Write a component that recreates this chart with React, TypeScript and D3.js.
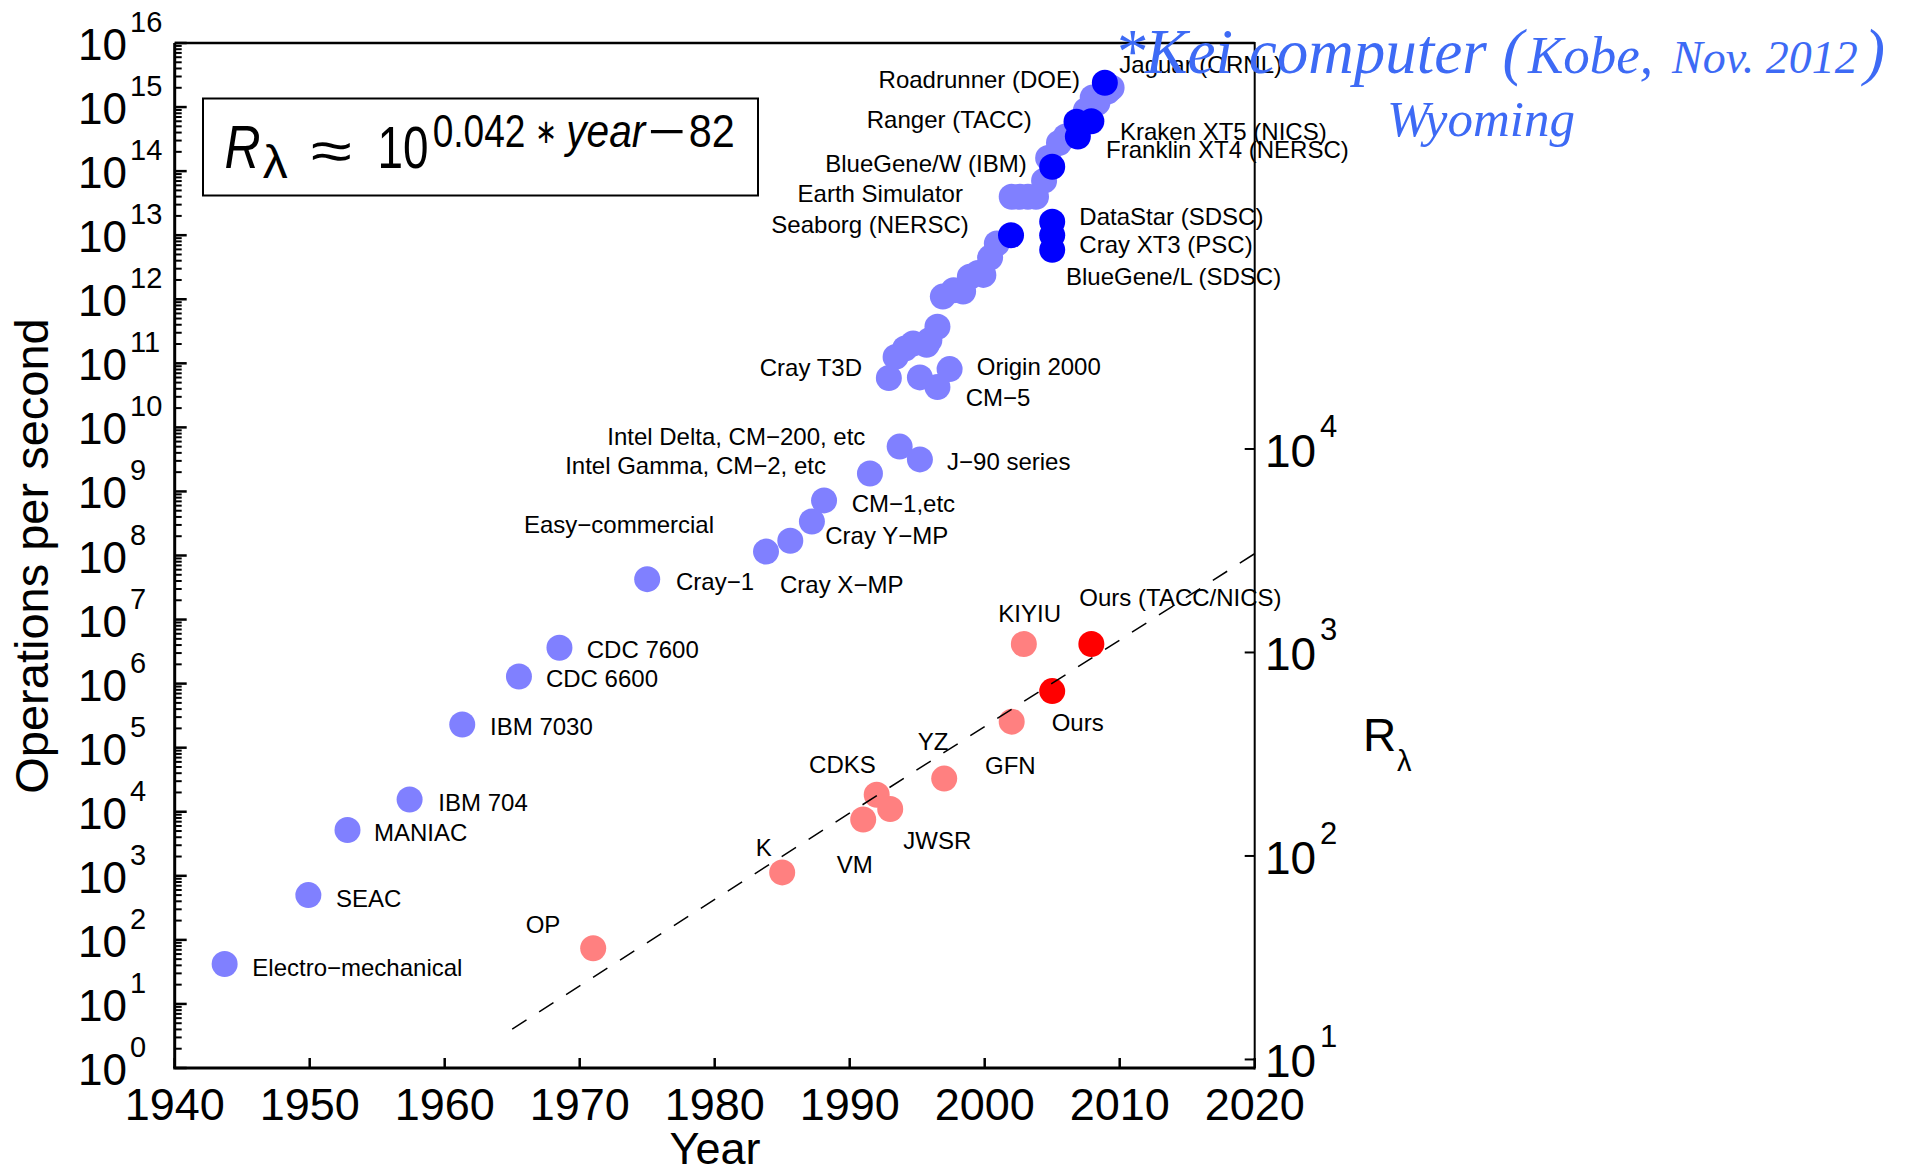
import React, { useEffect, useRef } from 'react';
import * as d3 from 'd3';

// ---- data ----
// general machines (left axis, operations per second)
const machineYears = [
    1943.7, 1949.9, 1952.8, 1957.4, 1961.3, 1965.5, 1968.5, 1975.0, 1983.8, 1985.6,
    1987.2, 1988.1, 1991.5, 1993.7, 1995.2, 1992.9, 1995.2, 1996.5, 1997.4, 1993.4,
    1994.1, 1994.7, 1995.7, 1995.9, 1996.5, 1996.9, 1997.7, 1998.4, 1998.9, 1999.9,
    1999.5, 2000.4, 2000.9, 2002.0, 2002.6, 2003.2, 2003.8, 2004.4, 2004.7, 2005.5,
    2006.0, 2007.5, 2008.0, 2008.35, 2009.1, 2009.4,
];
const machineOps = [
    42, 500, 5.2e3, 1.55e4, 2.3e5, 1.29e6, 3.63e6, 4.27e7, 1.15e8, 1.7e8,
    3.39e8, 7.24e8, 1.91e9, 5.01e9, 3.16e9, 5.89e10, 6.03e10, 4.27e10, 8.13e10, 1.26e11,
    1.7e11, 2.04e11, 1.95e11, 2.29e11, 3.72e11, 1.1e12, 1.38e12, 1.32e12, 2.24e12, 2.4e12,
    2.57e12, 4.47e12, 7.41e12, 3.98e13, 3.98e13, 3.98e13, 3.98e13, 7.1e13, 1.6e14, 2.75e14,
    3.47e14, 8.9e14, 1.41e15, 1.17e15, 1.74e15, 2.0e15,
];

// highlighted machines (dark blue)
const highlightYears = [2001.95, 2005.0, 2005.0, 2005.0, 2005.0, 2006.9, 2006.8, 2007.9, 2008.9];
const highlightOps = [1.0e13, 1.62e13, 1.0e13, 5.9e12, 1.17e14, 3.47e14, 5.9e14, 6.0e14, 2.4e15];

// simulations (right axis, R_lambda)
const simYears = [1971.0, 1985.0, 1991.0, 1992.0, 1993.0, 1997.0, 2002.0, 2002.9];
const simR = [35.2, 83, 151, 200, 170, 240, 457, 1100];

// our simulations (red)
const oursYears = [2005.0, 2007.9];
const oursR = [646, 1100];

// dashed fit line end points (right axis)
const fitYears = [1965, 2020];
const fitR = [14.1, 3060];

// annotations (placed in left-axis data coordinates)
const labelTexts = [
    'Electro−mechanical', 'SEAC', 'MANIAC', 'IBM 704', 'IBM 7030', 'CDC 6600', 'CDC 7600',
    'Cray−1', 'Cray X−MP', 'Cray Y−MP', 'CM−1,etc', 'Easy−commercial',
    'Intel Gamma, CM−2, etc', 'Intel Delta, CM−200, etc', 'J−90 series', 'Cray T3D',
    'Origin 2000', 'CM−5', 'BlueGene/L (SDSC)', 'Cray XT3 (PSC)', 'DataStar (SDSC)',
    'Seaborg (NERSC)', 'Earth Simulator', 'BlueGene/W (IBM)', 'Franklin XT4 (NERSC)',
    'Kraken XT5 (NICS)', 'Ranger (TACC)', 'Roadrunner (DOE)', 'Jaguar (ORNL)',
    'KIYIU', 'Ours (TACC/NICS)', 'Ours', 'GFN', 'YZ', 'CDKS', 'JWSR', 'VM', 'K', 'OP',
];
const labelYears = [
    1945.75, 1951.95, 1954.76, 1959.53, 1963.36, 1967.5, 1970.52,
    1977.13, 1984.84, 1988.19, 1990.15, 1979.95,
    1988.24, 1991.16, 1997.21, 1990.91,
    1999.41, 1998.59, 2006.02, 2007.01, 2007.01,
    1998.82, 1998.39, 2003.11, 2008.99,
    2010.02, 2003.48, 2007.06, 2009.97,
    2001.01, 2007.01, 2004.96, 2000.02, 1995.04, 1986.99, 1993.97, 1989.04, 1983.04, 1966.0,
];
const labelOps = [
    2.76e1, 3.3e2, 3.53e3, 1.04e4, 1.58e5, 8.77e5, 2.49e6,
    2.9e7, 2.57e7, 1.51e8, 4.83e8, 2.27e8,
    1.87e9, 5.31e9, 2.16e9, 6.3e10,
    6.58e10, 2.18e10, 1.67e12, 5.22e12, 1.45e13,
    1.07e13, 3.33e13, 9.82e13, 1.59e14,
    3.06e14, 4.67e14, 1.96e15, 3.37e15,
    9.08e6, 1.63e7, 1.84e5, 3.88e4, 9.2e4, 4.07e4, 2.59e3, 1.09e3, 2.04e3, 1.27e2,
];
const labelEndAnchored = [
    'Easy−commercial', 'Intel Gamma, CM−2, etc', 'Intel Delta, CM−200, etc', 'Cray T3D',
    'Seaborg (NERSC)', 'Earth Simulator', 'BlueGene/W (IBM)', 'Ranger (TACC)', 'Roadrunner (DOE)',
];

const yearTicks = [1940, 1950, 1960, 1970, 1980, 1990, 2000, 2010, 2020];
const leftExponents = d3.range(0, 17);
const rightExponents = [1, 2, 3, 4];

const W = 1912;
const H = 1173;
const plot = { left: 174.7, right: 1254.7, top: 43, bottom: 1068 };
const sans = "'Liberation Sans', Arial, Helvetica, sans-serif";
const serif = "'Liberation Serif', 'Times New Roman', serif";

const App: React.FC = () => {
    const svgRef = useRef<SVGSVGElement>(null);

    useEffect(() => {
        if (!svgRef.current) return;
        const svg = d3.select(svgRef.current);
        svg.selectAll('*').remove();

        const x = d3.scaleLinear().domain([1940, 2020]).range([plot.left, plot.right]);
        const y = d3.scaleLog().domain([1, 1e16]).range([plot.bottom, plot.top]);
        const yR = d3.scaleLog()
            .domain([Math.pow(10, 0.958), Math.pow(10, 5.995)])
            .range([plot.bottom, plot.top]);

        svg.append('rect').attr('width', W).attr('height', H).attr('fill', '#fff');

        // points
        const dots = (years: number[], vals: number[], scale: any, color: string) => {
            svg.append('g')
                .selectAll('circle')
                .data(years)
                .enter()
                .append('circle')
                .attr('cx', (d: number) => x(d))
                .attr('cy', (_d: number, i: number) => scale(vals[i]))
                .attr('r', 13)
                .attr('fill', color);
        };
        dots(machineYears, machineOps, y, '#8080ff');
        dots(highlightYears, highlightOps, y, '#0000ff');
        dots(simYears, simR, yR, '#ff8080');
        dots(oursYears, oursR, yR, '#ff0000');

        // dashed fit
        const fitLine = d3.line<number>()
            .x((d: number) => x(d))
            .y((_d: number, i: number) => yR(fitR[i]));
        svg.append('path')
            .attr('d', fitLine(fitYears))
            .attr('fill', 'none')
            .attr('stroke', '#000')
            .attr('stroke-width', 1.5)
            .attr('stroke-dasharray', '17,15');

        // annotations
        svg.append('g')
            .selectAll('text')
            .data(labelTexts)
            .enter()
            .append('text')
            .attr('x', (_d: string, i: number) => x(labelYears[i]))
            .attr('y', (_d: string, i: number) => y(labelOps[i]))
            .attr('text-anchor', (d: string) => (labelEndAnchored.includes(d) ? 'end' : 'start'))
            .style('font-family', sans)
            .style('font-size', '24px')
            .style('fill', '#000')
            .text((d: string) => d);

        // frame
        const frame = svg.append('g').attr('stroke', '#000').attr('fill', 'none');
        frame.append('line')
            .attr('x1', plot.left).attr('x2', plot.left)
            .attr('y1', plot.top).attr('y2', plot.bottom).attr('stroke-width', 3);
        frame.append('line')
            .attr('x1', plot.left - 1.5).attr('x2', plot.right)
            .attr('y1', plot.bottom).attr('y2', plot.bottom).attr('stroke-width', 3);
        frame.append('line')
            .attr('x1', plot.left).attr('x2', plot.right)
            .attr('y1', plot.top).attr('y2', plot.top).attr('stroke-width', 2.5);
        frame.append('line')
            .attr('x1', plot.right).attr('x2', plot.right)
            .attr('y1', plot.top - 1).attr('y2', plot.bottom + 1.5).attr('stroke-width', 2);

        // left ticks
        leftExponents.forEach((e) => {
            const ty = y(Math.pow(10, e));
            frame.append('line')
                .attr('x1', plot.left).attr('x2', plot.left + 12)
                .attr('y1', ty).attr('y2', ty).attr('stroke-width', 2.5);
            if (e < 16) {
                for (let k = 2; k <= 9; k++) {
                    const my = y(k * Math.pow(10, e));
                    frame.append('line')
                        .attr('x1', plot.left).attr('x2', plot.left + 7)
                        .attr('y1', my).attr('y2', my).attr('stroke-width', 2);
                }
            }
            svg.append('text')
                .attr('x', 78).attr('y', ty + 17)
                .style('font-family', sans).style('font-size', '44px')
                .text('10');
            svg.append('text')
                .attr('x', 130).attr('y', ty - 11)
                .style('font-family', sans).style('font-size', '29px')
                .text(String(e));
        });

        // bottom ticks
        yearTicks.forEach((yr) => {
            frame.append('line')
                .attr('x1', x(yr)).attr('x2', x(yr))
                .attr('y1', plot.bottom).attr('y2', plot.bottom - 10).attr('stroke-width', 2.5);
            svg.append('text')
                .attr('x', x(yr)).attr('y', 1120)
                .attr('text-anchor', 'middle')
                .style('font-family', sans).style('font-size', '45px')
                .text(String(yr));
        });

        // right ticks
        rightExponents.forEach((e) => {
            const ty = yR(Math.pow(10, e));
            frame.append('line')
                .attr('x1', plot.right - 10).attr('x2', plot.right)
                .attr('y1', ty).attr('y2', ty).attr('stroke-width', 2);
            svg.append('text')
                .attr('x', 1265).attr('y', ty + 18)
                .style('font-family', sans).style('font-size', '46px')
                .text('10');
            svg.append('text')
                .attr('x', 1320).attr('y', ty - 12)
                .style('font-family', sans).style('font-size', '31px')
                .text(String(e));
        });

        // axis titles
        svg.append('text')
            .attr('transform', 'translate(48, 556) rotate(-90)')
            .attr('text-anchor', 'middle')
            .style('font-family', sans).style('font-size', '47px')
            .text('Operations per second');
        svg.append('text')
            .attr('x', 715).attr('y', 1164)
            .attr('text-anchor', 'middle')
            .style('font-family', sans).style('font-size', '45px')
            .text('Year');
        svg.append('text')
            .attr('x', 1363).attr('y', 751)
            .style('font-family', sans).style('font-size', '46px')
            .text('R');
        svg.append('text')
            .attr('x', 1397).attr('y', 771)
            .style('font-family', sans).style('font-size', '29px')
            .text('λ');

        // formula box
        svg.append('rect')
            .attr('x', 203).attr('y', 98.5)
            .attr('width', 555).attr('height', 97)
            .attr('fill', 'none').attr('stroke', '#000').attr('stroke-width', 2);
        const part = (t: string, px: number, py: number, len: number, size: number, italic = false, family = sans) => {
            svg.append('text')
                .attr('x', px).attr('y', py)
                .attr('textLength', len)
                .attr('lengthAdjust', 'spacingAndGlyphs')
                .style('font-family', family)
                .style('font-size', `${size}px`)
                .style('font-style', italic ? 'italic' : 'normal')
                .text(t);
        };
        part('R', 224.5, 168.3, 36, 62, true);
        part('λ', 262.8, 178, 25, 46);
        part('≈', 311, 170, 41, 56);
        part('10', 377.6, 168.3, 51, 60);
        part('0.042', 432.7, 146.7, 92.8, 46);
        part('∗', 535, 143, 22, 34, false, "'DejaVu Sans', sans-serif");
        part('year', 566.3, 146.7, 79, 46, true);
        part('−', 648, 146.7, 38, 46);
        part('82', 688.8, 146.7, 46, 46);

        // overlay note
        const note = (t: string, px: number, py: number, size: number) => {
            svg.append('text')
                .attr('x', px).attr('y', py)
                .style('font-family', serif)
                .style('font-style', 'italic')
                .style('font-size', `${size}px`)
                .style('fill', '#3d6af5')
                .text(t);
        };
        note('*Kei computer (', 1114, 73, 63);
        note('Kobe,', 1528, 73, 53);
        note('Nov. 2012', 1672, 73, 46);
        note(')', 1864, 73, 63);
        note('Wyoming', 1387, 136, 51);
    }, []);

    return (
        <svg
            ref={svgRef}
            width={W}
            height={H}
            style={{ position: 'absolute', left: 0, top: 0, display: 'block' }}
        />
    );
};

export default App;
